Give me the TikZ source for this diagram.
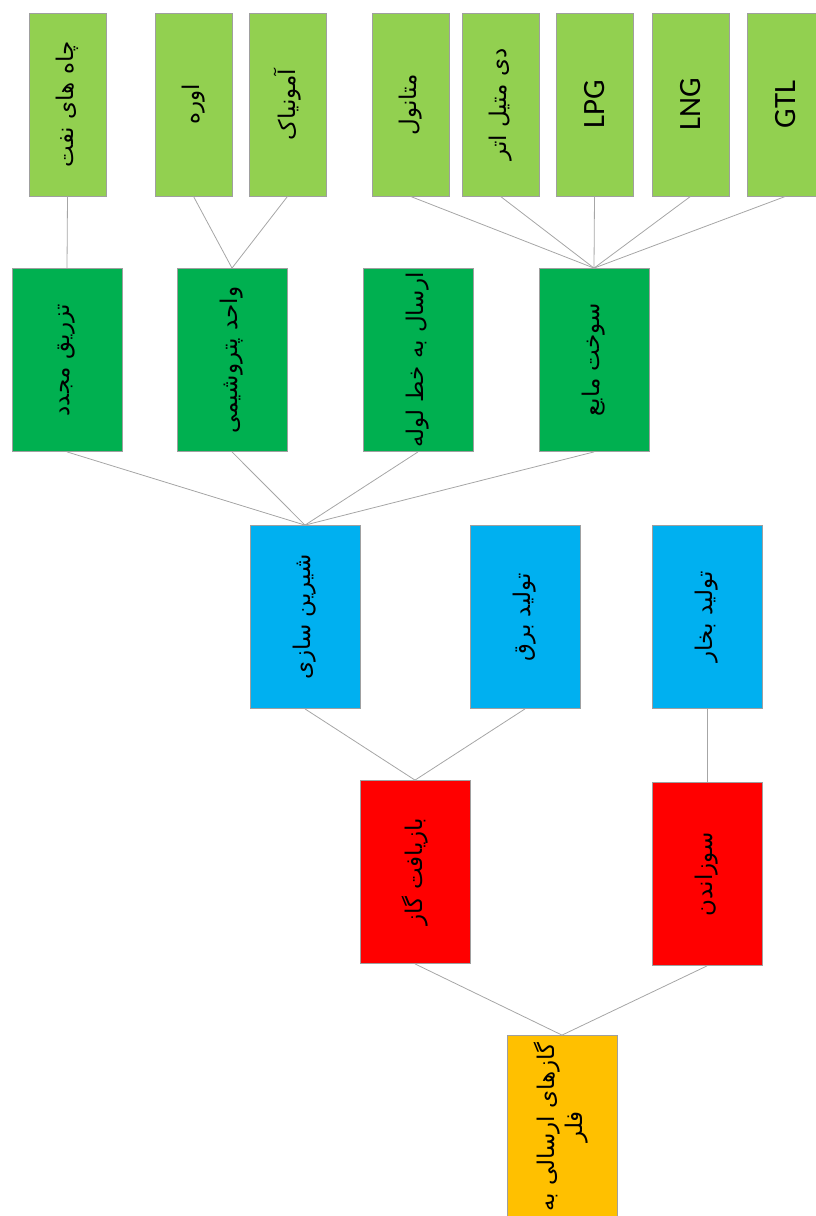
\documentclass[tikz,border=0pt]{standalone}
\usepackage{fontspec}
\usepackage{graphicx}
\setmainfont{Carlito}
\newfontfamily\fa[Script=Arabic]{DejaVu Sans}
\TeXXeTstate=1
\usepackage{tikz}
\usetikzlibrary{positioning}
\definecolor{leaf}{HTML}{92D050}
\definecolor{use}{HTML}{00B050}
\definecolor{treat}{HTML}{00B0F0}
\definecolor{recov}{HTML}{FF0000}
\definecolor{flare}{HTML}{FFC000}
\newcommand{\fatext}[1]{\rotatebox{90}{\fa\beginR #1\endR}}
\newcommand{\entext}[1]{\rotatebox{90}{\fontsize{31}{36}\selectfont #1}}

\begin{document}
\begin{tikzpicture}[x=1pt,y=-1pt,
  box/.style={draw=gray!75, line width=0.8pt, inner sep=0pt,
              minimum width=110pt, minimum height=183pt,
              font=\fontsize{23}{28}\selectfont},
  thin box/.style={box, minimum width=77pt},
  link/.style={draw=gray!70, line width=0.8pt}
]
  \useasboundingbox (0,0) rectangle (816,1216);

  % Root
  \node[box, fill=flare, minimum height=183pt] (flr) at (562,1127)
    {\rotatebox{90}{\fa\begin{tabular}{c}\beginR گازهای ارسالی به\endR\\\beginR فلر\endR\end{tabular}}};

  % Recovery or burning
  \node[box, fill=recov] (rec) at (415,872) {\fatext{بازیافت گاز}};
  \node[box, fill=recov] (burn) at (707,874) {\fatext{سوزاندن}};
  \draw[link] (flr.north) -- (rec.south);
  \draw[link] (flr.north) -- (burn.south);

  % Treatment
  \node[box, fill=treat] (sweet) at (305,617) {\fatext{شیرین سازی}};
  \node[box, fill=treat] (power) at (525,617) {\fatext{تولید برق}};
  \node[box, fill=treat] (steam) at (707,617) {\fatext{تولید بخار}};
  \draw[link] (rec.north) -- (sweet.south);
  \draw[link] (rec.north) -- (power.south);
  \draw[link] (burn.north) -- (steam.south);

  % Uses of sweet gas
  \node[box, fill=use] (reinj) at (67,360) {\fatext{تزریق مجدد}};
  \node[box, fill=use] (petro) at (232,360) {\fatext{واحد پتروشیمی}};
  \node[box, fill=use] (pipe) at (418,360) {\fatext{ارسال به خط لوله}};
  \node[box, fill=use] (fuel) at (594,360) {\fatext{سوخت مایع}};
  \foreach \n in {reinj,petro,pipe,fuel}
    \draw[link] (sweet.north) -- (\n.south);

  % Products
  \node[thin box, fill=leaf] (well) at (67.5,104.5) {\fatext{چاه های نفت}};
  \node[thin box, fill=leaf] (urea) at (193.5,104.5) {\fatext{اوره}};
  \node[thin box, fill=leaf] (amm) at (287.5,104.5) {\fatext{آمونیاک}};
  \node[thin box, fill=leaf] (meth) at (410.5,104.5) {\fatext{متانول}};
  \node[thin box, fill=leaf] (dme) at (500.5,104.5) {\fatext{دی متیل اتر}};
  \node[thin box, fill=leaf] (lpg) at (594.5,104.5) {\entext{LPG}};
  \node[thin box, fill=leaf] (lng) at (690.5,104.5) {\entext{LNG}};
  \node[thin box, fill=leaf] (gtl) at (785.5,104.5) {\entext{GTL}};
  \draw[link] (reinj.north) -- (well.south);
  \draw[link] (petro.north) -- (urea.south);
  \draw[link] (petro.north) -- (amm.south);
  \foreach \n in {meth,dme,lpg,lng,gtl}
    \draw[link] (fuel.north) -- (\n.south);
\end{tikzpicture}
\end{document}
